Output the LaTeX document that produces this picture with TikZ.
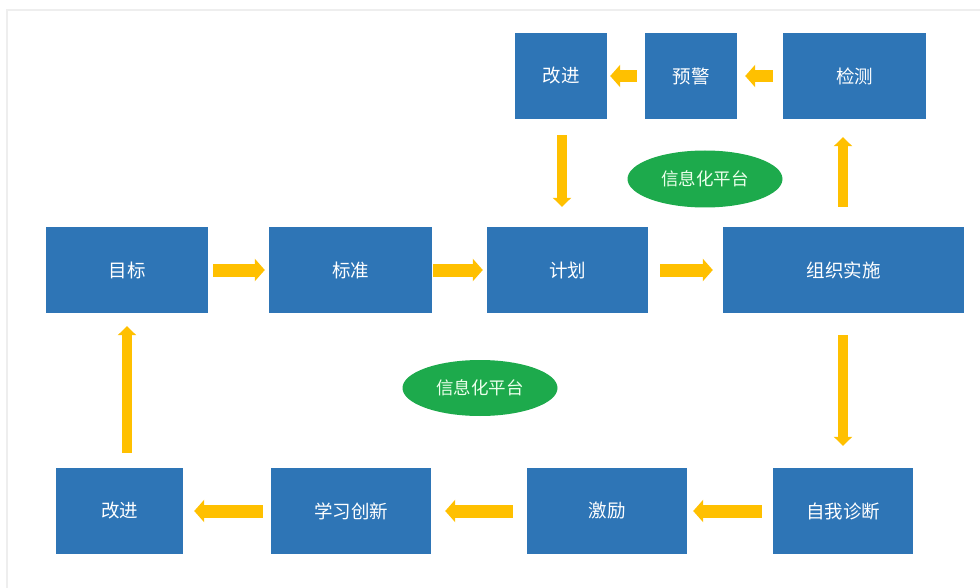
\documentclass[tikz,border=0pt]{standalone}
\usepackage{fontspec}
\newfontfamily\cjk{Noto Sans CJK SC}
\usetikzlibrary{arrows.meta,shapes.geometric}
\definecolor{boxblue}{HTML}{2E75B6}
\definecolor{arrgold}{HTML}{FFC000}
\definecolor{ovgreen}{HTML}{1DAA4C}
\definecolor{framegray}{HTML}{EEEEEE}
\begin{document}
\begin{tikzpicture}[x=1pt,y=-1pt,
  blk/.style={rectangle,fill=boxblue,draw=none,inner sep=0pt,text=white,
    font=\cjk\fontsize{18.5}{20}\selectfont,minimum height=86},
  oval/.style={ellipse,fill=ovgreen,draw=none,inner sep=0pt,text=white!92!green,
    font=\cjk\fontsize{17.5}{19}\selectfont,minimum width=155,minimum height=57},
  harr/.style={draw=arrgold,line width=13,-{Triangle[length=10,width=22]}},
  varr/.style={draw=arrgold,line width=10,-{Triangle[length=9,width=18]}}
]
\useasboundingbox (0,0) rectangle (980,588);
\fill[white] (0,0) rectangle (980,588);
\draw[framegray,line width=1.2] (7,588) -- (7,10) -- (980,10);

% top row
\node[blk,minimum width=92]  (kj1) at (561,76)   {改进};
\node[blk,minimum width=92]  (yj)  at (691,76)   {预警};
\node[blk,minimum width=143] (jc)  at (854.5,76) {检测};
% middle row
\node[blk,minimum width=162] (mb) at (127,270)   {目标};
\node[blk,minimum width=163] (bz) at (350.5,270) {标准};
\node[blk,minimum width=161] (jh) at (567.5,270) {计划};
\node[blk,minimum width=241] (zz) at (843.5,270) {组织实施};
% bottom row
\node[blk,minimum width=127] (kj2) at (119.5,511) {改进};
\node[blk,minimum width=160] (xx)  at (351,511)   {学习创新};
\node[blk,minimum width=160] (jl)  at (607,511)   {激励};
\node[blk,minimum width=140] (zw)  at (843,511)   {自我诊断};
% ovals
\node[oval] (pt1) at (705,179) {信息化平台};
\node[oval,minimum height=56] (pt2) at (480,388) {信息化平台};

% horizontal arrows
\draw[harr,shorten <=5,shorten >=4] (mb.east) -- (bz.west);
\draw[harr,shorten <=1,shorten >=4] (bz.east) -- (jh.west);
\draw[harr,shorten <=12,shorten >=10] (jh.east) -- (zz.west);
\draw[harr,shorten <=11,shorten >=6] (zw.west) -- (jl.east);
\draw[harr,shorten <=14,shorten >=14] (jl.west) -- (xx.east);
\draw[harr,shorten <=8,shorten >=11] (xx.west) -- (kj2.east);
\draw[harr,line width=12,shorten <=10,shorten >=8] (jc.west) -- (yj.east);
\draw[harr,line width=12,shorten <=8,shorten >=3] (yj.west) -- (kj1.east);
% vertical arrows
\coordinate (a1) at ([xshift=1]kj1.south);
\draw[varr,shorten <=16,shorten >=20] (a1) -- (a1 |- jh.north);
\coordinate (a2) at ([xshift=-0.5]zz.north);
\draw[varr,shorten <=20,shorten >=18] (a2) -- (a2 |- jc.south);
\coordinate (a3) at ([xshift=-0.5]zz.south);
\draw[varr,shorten <=22,shorten >=22] (a3) -- (a3 |- zw.north);
\coordinate (a4) at (mb.south |- kj2.north);
\draw[varr,shorten <=15,shorten >=13] (a4) -- (mb.south);
\end{tikzpicture}
\end{document}
